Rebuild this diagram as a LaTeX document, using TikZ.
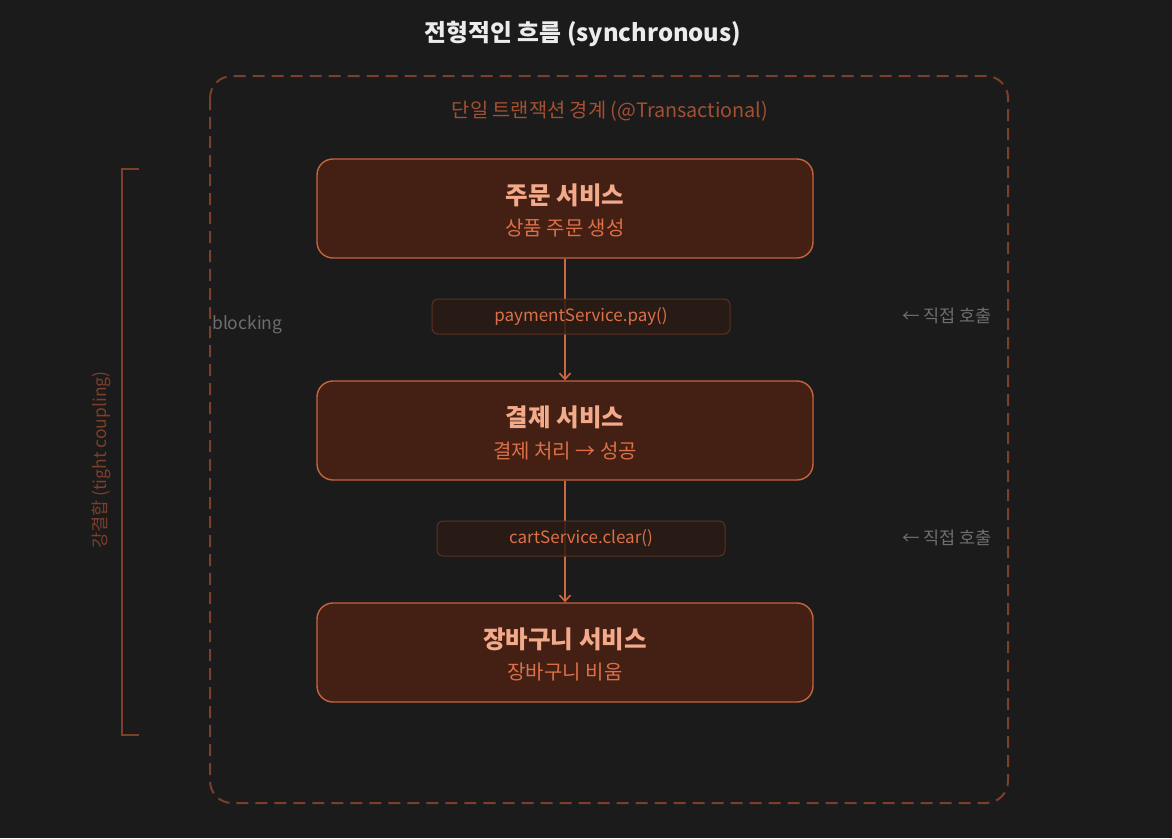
\documentclass[tikz,border=0pt]{standalone}
\usepackage{fontspec}
\setmainfont{Noto Sans CJK KR}
\usetikzlibrary{arrows.meta}
\definecolor{bg}{HTML}{1B1B1B}
\definecolor{boxfill}{HTML}{431F14}
\definecolor{boxline}{HTML}{C8643C}
\definecolor{ttext}{HTML}{F2AA8A}
\definecolor{stext}{HTML}{DC7048}
\definecolor{dashc}{HTML}{7B3F2B}
\definecolor{transc}{HTML}{A35032}
\definecolor{lblfill}{HTML}{2B1A13}
\definecolor{lblline}{HTML}{5B3222}
\definecolor{grayt}{HTML}{6E6E6E}
\definecolor{titlec}{HTML}{ECECEC}
\definecolor{arrc}{HTML}{D0663E}
\tikzset{
  svcbox/.style={draw=boxline, line width=1.4pt, fill=boxfill, rounded corners=16pt, minimum width=496pt, minimum height=99pt, inner sep=0pt},
  svctitle/.style={text=ttext, font=\fontsize{24.5}{28}\selectfont\bfseries, inner sep=0pt},
  svcsub/.style={text=stext, font=\fontsize{20}{24}\selectfont, inner sep=0pt},
  lblbox/.style={draw=lblline, line width=1pt, fill=lblfill, fill opacity=0.85, text opacity=1, rounded corners=6pt, minimum height=35pt, inner sep=0pt, text=stext, font=\fontsize{17}{20}\selectfont},
  conn/.style={draw=arrc, line width=1.6pt, -{Straight Barb[length=6pt,width=11pt,line width=1.6pt]}},
  graytext/.style={text=grayt, font=\fontsize{17.5}{21}\selectfont, inner sep=0pt},
}
\begin{document}
\begin{tikzpicture}[x=1pt,y=-1pt]
\fill[bg] (0,0) rectangle (1172,838);
\useasboundingbox (0,0) rectangle (1172,838);
% title
\node[text=titlec, font=\fontsize{23.8}{28}\selectfont\bfseries, inner sep=0pt] (title) at (583,34) {전형적인 흐름 (synchronous)};
% transaction boundary
\draw[dashc, line width=2pt, dash pattern=on 12pt off 7pt, rounded corners=22pt] (210,76) rectangle (1008,803);
\node[text=transc, font=\fontsize{19.8}{23}\selectfont, inner sep=0pt] (trans) at (610,111) {단일 트랜잭션 경계 (@Transactional)};
% bracket
\coordinate (bt) at (139,169);
\coordinate (bb) at (139,735);
\draw[dashc, line width=1.3pt] (bt) -- (122,169) -- (122,735) -- (bb);
\node[text=dashc, font=\fontsize{17.5}{21}\selectfont, inner sep=0pt, rotate=90] (tight) at (101,460) {강결합 (tight coupling)};
% blocking
\node[graytext, anchor=west] (blocking) at (212,325) {blocking};
% service boxes
\node[svcbox] (order) at (565,208.5) {};
\node[svctitle] (orderT) at (565,195) {주문 서비스};
\node[svcsub] (orderS) at (565,228) {상품 주문 생성};
\node[svcbox] (pay) at (565,430.5) {};
\node[svctitle] (payT) at (565,417) {결제 서비스};
\node[svcsub] (payS) at (565,451) {결제 처리 → 성공};
\node[svcbox] (cart) at (565,652.5) {};
\node[svctitle] (cartT) at (565,639) {장바구니 서비스};
\node[svcsub] (cartS) at (565,672) {장바구니 비움};
% connectors
\draw[conn] (order.south) -- (pay.north);
\draw[conn] (pay.south) -- (cart.north);
% call labels
\node[lblbox, minimum width=298pt] (call1) at (581,316.5) {paymentService.pay()};
\node[lblbox, minimum width=288pt] (call2) at (581,538.5) {cartService.clear()};
% direct call notes
\node[graytext, anchor=east] (note1) at (992,316) {← 직접 호출};
\node[graytext, anchor=east] (note2) at (992,538) {← 직접 호출};
\end{tikzpicture}
\end{document}
